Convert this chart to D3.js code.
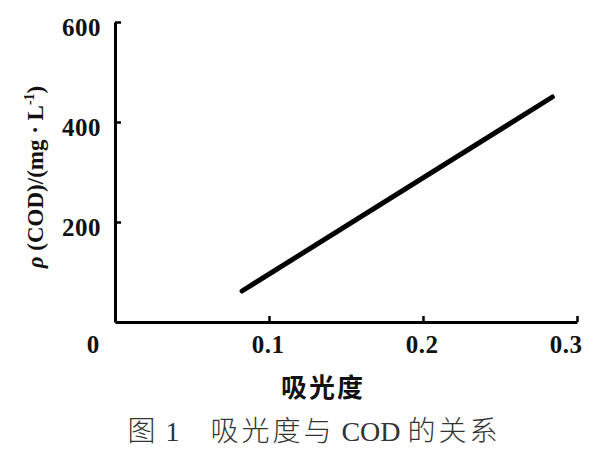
<!DOCTYPE html>
<html><head><meta charset="utf-8">
<script src="https://cdn.jsdelivr.net/npm/d3@7"></script>
<style>body{margin:0;background:#fff}</style>
</head><body>
<svg id="c" width="600" height="450"></svg>
<script>
// Data
const absorbance = [0.0825, 0.284];     // line endpoints (x)
const codValues  = [62, 450];           // line endpoints (y, mg/L)
const xTicks = [0.1, 0.2, 0.3];
const xTickLabels = ["0.1", "0.2", "0.3"];
const yTicks = [200, 400, 600];
const yTickLabels = ["200", "400", "600"];
const xTitle = "吸光度";
const caption = "图 1　吸光度与 COD 的关系";

const svg = d3.select("#c");
const x = d3.scaleLinear().domain([0, 0.3]).range([115, 577]);
const y = d3.scaleLinear().domain([0, 600]).range([322, 22]);
const serif = "'Liberation Serif','Times New Roman',serif";

// axes
const xAxis = d3.axisBottom(x).tickValues(xTicks).tickSizeInner(-6).tickSizeOuter(0).tickFormat("");
const gx = svg.append("g").attr("transform", `translate(0,${y(0)})`).call(xAxis);
const yAxis = d3.axisLeft(y).tickValues(yTicks).tickSizeInner(-6).tickSizeOuter(0).tickFormat("");
const gy = svg.append("g").attr("transform", `translate(${x(0)},0)`).call(yAxis);
[gx, gy].forEach(g => {
  g.select(".domain").attr("stroke", "#000").attr("stroke-width", 3);
  g.selectAll(".tick line").attr("stroke", "#000").attr("stroke-width", 2.5);
});

// tick labels
svg.append("g").selectAll("text").data(xTicks).join("text")
  .attr("x", (d, i) => i === xTicks.length - 1 ? x(d) - 11 : x(d) - 1)
  .attr("y", y(0) + 31)
  .attr("text-anchor", "middle")
  .attr("font-family", serif).attr("font-weight", "bold").attr("font-size", 25)
  .attr("letter-spacing", 0.5)
  .attr("fill", "#111")
  .text((d, i) => xTickLabels[i]);
svg.append("text").attr("x", x(0) - 22).attr("y", y(0) + 31)
  .attr("text-anchor", "middle")
  .attr("font-family", serif).attr("font-weight", "bold").attr("font-size", 25)
  .attr("fill", "#111").text("0");
svg.append("g").selectAll("text").data(yTicks).join("text")
  .attr("x", x(0) - 14)
  .attr("y", d => y(d) + 14)
  .attr("text-anchor", "end")
  .attr("font-family", serif).attr("font-weight", "bold").attr("font-size", 25)
  .attr("letter-spacing", 0.5)
  .attr("fill", "#111")
  .text((d, i) => yTickLabels[i]);

// y title
const yt = svg.append("text")
  .attr("transform", "translate(43,177) rotate(-90)")
  .attr("text-anchor", "middle")
  .attr("font-family", serif).attr("font-weight", "bold").attr("font-size", 23)
  .attr("fill", "#111");
yt.append("tspan").attr("font-style", "italic").text("ρ");
yt.append("tspan").text(" (COD)/(mg · L");
yt.append("tspan").attr("font-size", 14).attr("dy", -9).text("-1");
yt.append("tspan").attr("dy", 9).text(")");

// x title
svg.append("text").attr("x", 323).attr("y", 397)
  .attr("text-anchor", "middle")
  .attr("font-family", "'Noto Sans CJK SC',sans-serif").attr("font-weight", "bold").attr("font-size", 26)
  .attr("letter-spacing", 2)
  .attr("fill", "#111").text(xTitle);

// caption: CJK runs spaced, Latin runs tight
const cap = svg.append("text").attr("x", 314).attr("y", 441)
  .attr("text-anchor", "middle")
  .attr("font-family", "'Liberation Serif','Noto Sans CJK SC',serif").attr("font-weight", 300).attr("font-size", 28)
  .attr("fill", "#333");
caption.match(/[\x20-\x7e]+|[^\x20-\x7e]+/g).forEach(run => {
  const latin = /^[\x20-\x7e]+$/.test(run);
  cap.append("tspan").attr("letter-spacing", latin ? 0 : 3).text(run);
});

// data line
const line = d3.line().x(d => x(d[0])).y(d => y(d[1]));
svg.append("path").datum(d3.zip(absorbance, codValues))
  .attr("d", line).attr("fill", "none").attr("stroke", "#000")
  .attr("stroke-width", 5).attr("stroke-linecap", "round");
</script>
</body></html>
